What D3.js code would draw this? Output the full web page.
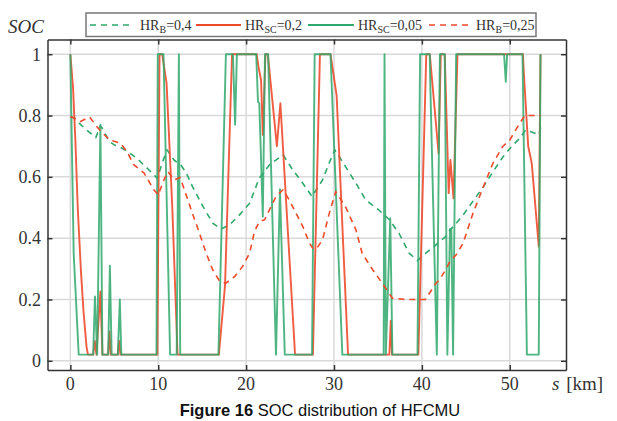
<!DOCTYPE html>
<html>
<head>
<meta charset="utf-8">
<script src="https://cdn.jsdelivr.net/npm/d3@7"></script>
<style>
  body { margin: 0; background: #fff; }
  svg { display: block; }
</style>
</head>
<body>
<svg id="chart" width="617" height="421"></svg>
<script>
// Axis ticks
const xTicks = [0, 10, 20, 30, 40, 50];
const yTicks = [0, 0.2, 0.4, 0.6, 0.8, 1];
const yTickLabels = ["0", "0.2", "0.4", "0.6", "0.8", "1"];

// SOC along the route, [distance s in km, SOC]
const hrB04 = [[0,0.797],[0.5,0.791],[1.0,0.775],[1.5,0.762],[1.9,0.752],[2.4,0.74],[2.9,0.728],[3.4,0.766],[3.6,0.76],[4.4,0.716],[5.0,0.704],[5.6,0.698],[6.5,0.683],[7.6,0.66],[8.75,0.628],[9.5,0.607],[9.9,0.595],[10.45,0.645],[11.0,0.688],[11.8,0.655],[12.6,0.638],[13.2,0.612],[13.9,0.568],[15.1,0.503],[16.2,0.449],[17.15,0.43],[18.1,0.443],[19.25,0.476],[20.4,0.514],[21.5,0.596],[22.65,0.639],[24.2,0.672],[25.3,0.623],[26.45,0.579],[27.5,0.536],[28.7,0.59],[29.45,0.645],[30.1,0.688],[31.3,0.634],[32.5,0.579],[33.6,0.525],[35.1,0.492],[36.3,0.46],[37.4,0.416],[38.55,0.351],[39.5,0.327],[40.45,0.351],[41.6,0.378],[42.7,0.405],[43.2,0.427],[43.75,0.443],[44.7,0.476],[45.8,0.52],[47.0,0.568],[48.1,0.617],[49.25,0.666],[50.2,0.699],[51.15,0.726],[51.8,0.753],[52.65,0.745],[53.3,0.737],[53.6,0.77]];

const hrSC02 = [[0,1],[0.3,0.894],[0.57,0.72],[0.84,0.5],[1.2,0.295],[1.5,0.16],[1.84,0.046],[2.0,0.02],[2.6,0.02],[2.78,0.065],[2.97,0.02],[3.42,0.226],[3.65,0.02],[4.3,0.02],[4.45,0.096],[4.6,0.02],[5.4,0.02],[5.55,0.065],[5.7,0.02],[9.9,0.02],[10.15,1],[10.45,1],[10.95,0.905],[11.6,0.5],[12.2,0.02],[16.9,0.02],[17.6,0.245],[18.4,1],[21.2,1],[21.4,0.96],[21.7,0.916],[21.9,0.737],[22.2,1],[22.47,1],[23.5,0.7],[23.9,0.84],[25.57,0.02],[27.6,0.02],[28.4,1],[29.6,1],[30.3,0.865],[31.6,0.02],[36.3,0.02],[36.46,0.13],[36.6,0.02],[39.6,0.02],[40.5,1],[40.9,1],[41.9,0.677],[42.15,1],[42.6,1],[43.05,0.547],[43.25,0.655],[43.6,0.53],[44.05,1],[51.5,1],[51.6,0.94],[52.1,0.7],[52.5,0.645],[53.3,0.373],[53.5,1]];

const hrSC005 = [[0,1],[0.38,0.35],[0.95,0.02],[2.6,0.02],[2.8,0.21],[3.05,0.02],[3.42,0.77],[3.65,0.02],[4.3,0.02],[4.5,0.31],[4.7,0.02],[5.4,0.02],[5.63,0.2],[5.8,0.02],[9.8,0.02],[9.95,1],[10.6,1],[11.35,0.02],[12.1,0.02],[12.35,1],[12.5,0.02],[16.85,0.02],[17.7,1],[18.5,1],[18.75,0.77],[18.95,1],[21.15,1],[21.35,0.845],[21.5,0.84],[21.9,0.47],[22.15,1],[22.5,1],[23.4,0.02],[23.85,0.56],[24.4,0.02],[27.5,0.02],[27.8,1],[29.6,1],[30.95,0.02],[35.65,0.02],[35.75,1],[35.9,0.02],[36.4,0.465],[36.65,0.02],[39.5,0.02],[39.8,1],[40.9,1],[40.95,0.91],[41.7,0.02],[42.05,1],[42.6,1],[42.9,0.02],[43.2,0.43],[43.35,0.43],[43.55,0.02],[43.9,1],[49.35,1],[49.55,0.91],[49.7,1],[51.45,1],[51.95,0.02],[53.3,0.02],[53.5,1]];

const hrB025 = [[0,0.797],[0.5,0.79],[1.1,0.78],[1.8,0.79],[2.2,0.795],[3.0,0.764],[3.7,0.742],[4.5,0.72],[5.7,0.71],[6.5,0.68],[7.2,0.64],[8.4,0.612],[9.5,0.558],[10.0,0.541],[10.65,0.59],[11.1,0.617],[11.8,0.59],[12.5,0.598],[13.9,0.48],[14.7,0.416],[15.45,0.351],[16.2,0.297],[17.0,0.259],[17.7,0.253],[18.7,0.275],[19.6,0.308],[20.4,0.351],[20.95,0.422],[21.5,0.454],[22.1,0.46],[22.65,0.492],[23.4,0.536],[24.2,0.558],[24.9,0.525],[25.7,0.48],[26.45,0.438],[27.2,0.384],[27.6,0.367],[28.0,0.365],[28.7,0.395],[29.45,0.48],[30.2,0.552],[31.3,0.503],[32.5,0.427],[33.2,0.351],[34.4,0.297],[35.5,0.253],[36.65,0.204],[38.2,0.2],[39.7,0.2],[40.4,0.2],[41.6,0.253],[42.0,0.264],[42.7,0.297],[43.2,0.324],[43.9,0.346],[44.7,0.384],[45.8,0.48],[47.0,0.568],[48.1,0.645],[49.2,0.699],[50.0,0.72],[50.8,0.759],[51.7,0.8],[52.6,0.8],[53.5,0.8]];

const GREEN = "#2fa86c";
const RED = "#ee4a2c";

const series = [
  { data: hrB04,   color: GREEN, dash: "6,5", width: 1.6, name: "HR", sub: "B",  val: "=0,4",  opacity: 1 },
  { data: hrSC02,  color: RED,   dash: null,  width: 1.9, name: "HR", sub: "SC", val: "=0,2",  opacity: 0.9 },
  { data: hrSC005, color: GREEN, dash: null,  width: 1.9, name: "HR", sub: "SC", val: "=0,05", opacity: 0.85 },
  { data: hrB025,  color: RED,   dash: "6,5", width: 1.6, name: "HR", sub: "B",  val: "=0,25", opacity: 1 }
];

const svg = d3.select("#chart");
const plotLeft = 47.5, plotRight = 566, plotTop = 39.5, plotBottom = 370;

const x = d3.scaleLinear().domain([-2.6, 56.4]).range([plotLeft, plotRight]);
const y = d3.scaleLinear().domain([-0.03, 1.048]).range([plotBottom, plotTop]);

const serif = "'Liberation Serif', 'Times New Roman', serif";
const sans = "'Liberation Sans', Arial, sans-serif";

// grid
const grid = svg.append("g").attr("stroke", "#d9d9d9").attr("stroke-width", 1.5);
grid.selectAll(".gx").data(xTicks).join("line")
  .attr("x1", d => x(d)).attr("x2", d => x(d))
  .attr("y1", plotTop).attr("y2", plotBottom);
grid.selectAll(".gy").data(yTicks).join("line")
  .attr("x1", plotLeft).attr("x2", plotRight)
  .attr("y1", d => y(d)).attr("y2", d => y(d));

// series
const line = d3.line().x(d => x(d[0])).y(d => y(d[1]));
const plot = svg.append("g");
series.forEach(s => {
  plot.append("path")
    .attr("d", line(s.data))
    .attr("fill", "none")
    .attr("stroke", s.color)
    .attr("stroke-width", s.width)
    .attr("stroke-opacity", s.opacity)
    .attr("stroke-linejoin", "round")
    .attr("stroke-dasharray", s.dash);
});

// frame with inward ticks on all sides
const tickLen = 5;
const axisBottom = d3.axisBottom(x).tickValues(xTicks).tickSizeInner(-tickLen).tickSizeOuter(0).tickFormat("");
const axisTop = d3.axisTop(x).tickValues(xTicks).tickSizeInner(-tickLen).tickSizeOuter(0).tickFormat("");
const axisLeft = d3.axisLeft(y).tickValues(yTicks).tickSizeInner(-tickLen).tickSizeOuter(0).tickFormat("");
const axisRight = d3.axisRight(y).tickValues(yTicks).tickSizeInner(-tickLen).tickSizeOuter(0).tickFormat("");

function styleAxis(g) {
  g.selectAll("path, line").attr("stroke", "#333").attr("stroke-width", 1.5);
}
svg.append("g").attr("transform", `translate(0,${plotBottom})`).call(axisBottom).call(styleAxis);
svg.append("g").attr("transform", `translate(0,${plotTop})`).call(axisTop).call(styleAxis);
svg.append("g").attr("transform", `translate(${plotLeft},0)`).call(axisLeft).call(styleAxis);
svg.append("g").attr("transform", `translate(${plotRight},0)`).call(axisRight).call(styleAxis);

// tick labels
svg.append("g").selectAll("text").data(yTicks).join("text")
  .attr("x", 41).attr("y", d => y(d)).attr("dy", "0.35em")
  .attr("text-anchor", "end")
  .attr("font-family", serif).attr("font-size", 18).attr("fill", "#333")
  .text((d, i) => yTickLabels[i]);

svg.append("g").selectAll("text").data(xTicks).join("text")
  .attr("x", d => x(d)).attr("y", 390)
  .attr("text-anchor", "middle")
  .attr("font-family", serif).attr("font-size", 18).attr("fill", "#333")
  .text(d => d);

// axis titles
svg.append("text").attr("x", 8).attr("y", 33)
  .attr("font-family", serif).attr("font-size", 19).attr("font-style", "italic").attr("fill", "#333")
  .text("SOC");

const xTitle = svg.append("text").attr("x", 552).attr("y", 390)
  .attr("font-family", serif).attr("font-size", 19).attr("fill", "#333");
xTitle.append("tspan").attr("font-style", "italic").text("s");
xTitle.append("tspan").attr("dx", 2).text(" [km]");

// legend
const legend = svg.append("g");
legend.append("rect").attr("x", 86).attr("y", 13).attr("width", 450).attr("height", 23.5)
  .attr("fill", "#fff").attr("stroke", "#777").attr("stroke-width", 1.5);
const legendPos = [
  { x1: 90, x2: 133, tx: 140 },
  { x1: 196, x2: 241, tx: 245 },
  { x1: 308, x2: 354, tx: 358 },
  { x1: 429, x2: 470, tx: 476 }
];
series.forEach((s, i) => {
  const p = legendPos[i];
  legend.append("line")
    .attr("x1", p.x1).attr("x2", p.x2).attr("y1", 25).attr("y2", 25)
    .attr("stroke", s.color).attr("stroke-width", s.width)
    .attr("stroke-dasharray", s.dash);
  const t = legend.append("text").attr("x", p.tx).attr("y", 29.5)
    .attr("font-family", serif).attr("font-size", 14).attr("fill", "#333");
  t.append("tspan").text(s.name);
  t.append("tspan").attr("font-size", 10).attr("dy", 3.5).text(s.sub);
  t.append("tspan").attr("dy", -3.5).text(s.val);
});

// caption
const cap = svg.append("text").attr("x", 320).attr("y", 416)
  .attr("text-anchor", "middle")
  .attr("font-family", sans).attr("font-size", 16.5).attr("fill", "#111");
cap.append("tspan").attr("font-weight", "bold").text("Figure 16");
cap.append("tspan").text(" SOC distribution of HFCMU");
</script>
</body>
</html>
